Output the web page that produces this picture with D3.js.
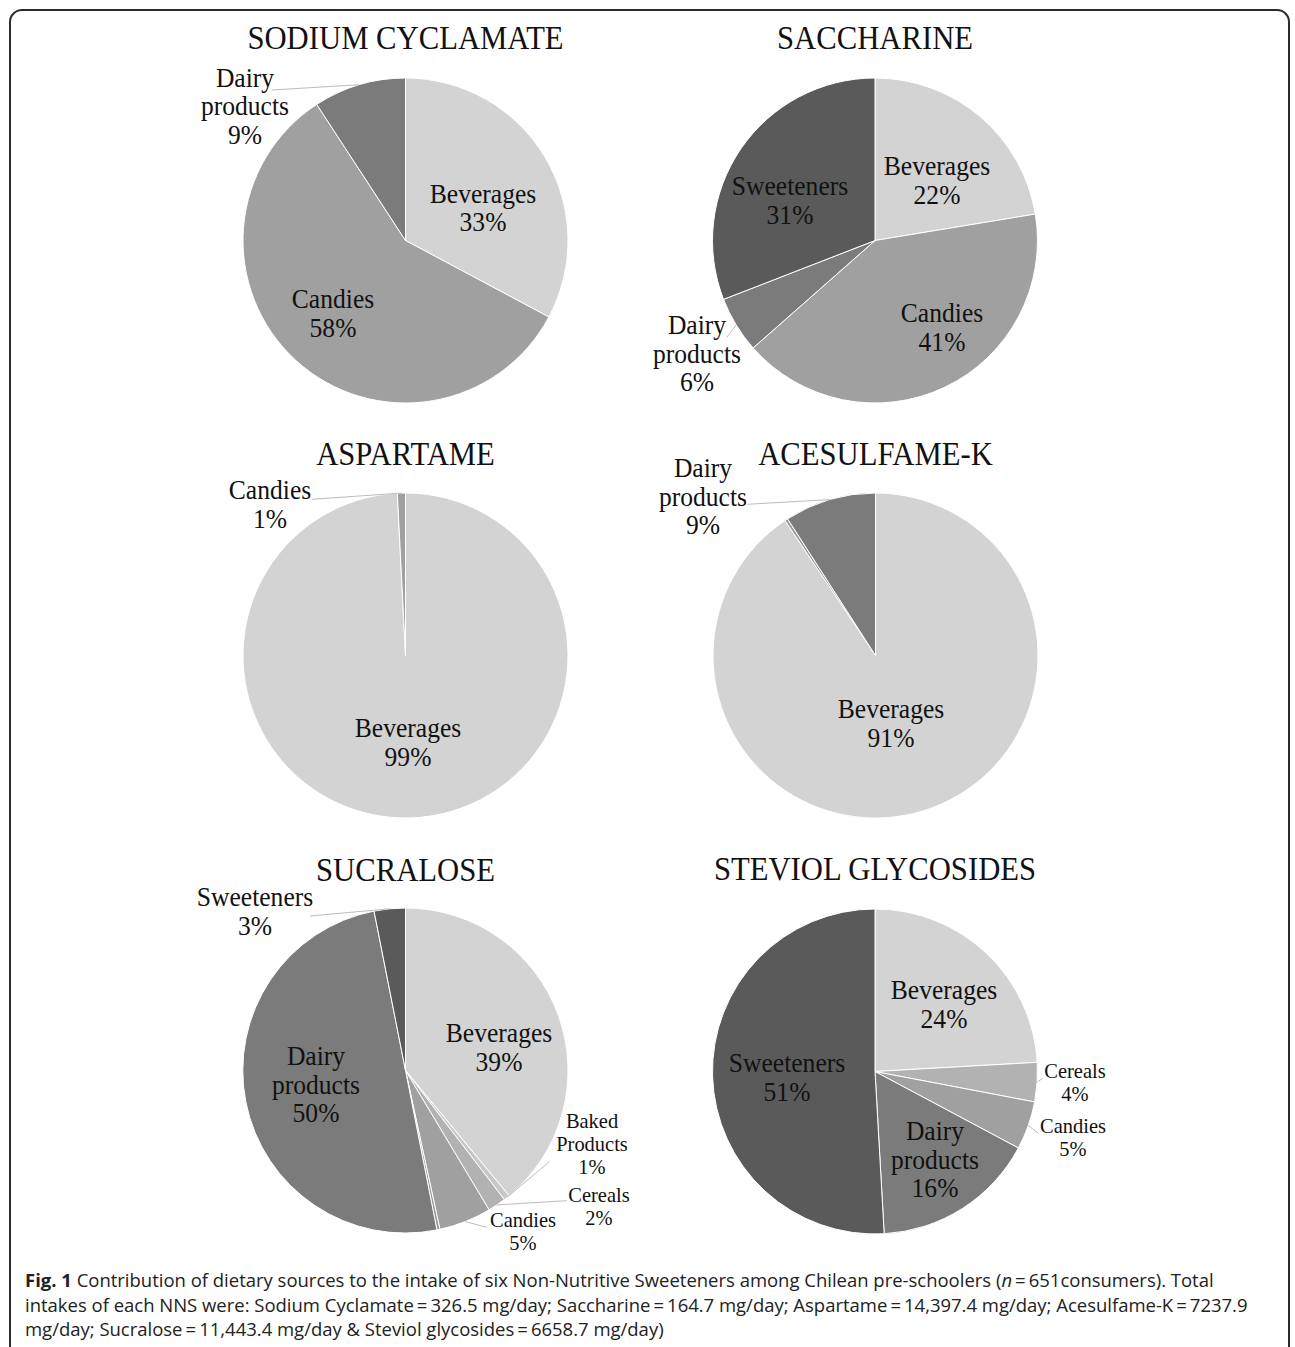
<!DOCTYPE html>
<html>
<head>
<meta charset="utf-8">
<script src="https://cdn.jsdelivr.net/npm/d3@7"></script>
<style>
  html, body { margin: 0; padding: 0; background: #fff; }
  svg { display: block; }
</style>
</head>
<body>
<svg id="chart" width="1295" height="1347"></svg>
<script>
// ---------------- DATA ----------------
const titles = ["SODIUM CYCLAMATE", "SACCHARINE", "ASPARTAME", "ACESULFAME-K", "SUCRALOSE", "STEVIOL GLYCOSIDES"];

const cyclamateCats = ["Beverages", "Candies", "Dairy products"];
const cyclamateVals = [32.8, 58.0, 9.2];

const saccharineCats = ["Beverages", "Candies", "Dairy products", "Sweeteners"];
const saccharineVals = [22.4, 41.1, 5.6, 30.9];

const aspartameCats = ["Beverages", "Candies"];
const aspartameVals = [99.2, 0.8];

const acesulfameCats = ["Beverages", "Other", "Dairy products"];
const acesulfameVals = [90.6, 0.3, 9.1];

const sucraloseCats = ["Beverages", "Baked Products", "Cereals", "Candies", "Other", "Dairy products", "Sweeteners"];
const sucraloseVals = [39.0, 0.6, 1.8, 5.2, 0.3, 50.0, 3.1];

const steviolCats = ["Beverages", "Cereals", "Candies", "Dairy products", "Sweeteners"];
const steviolVals = [24.1, 3.9, 4.8, 16.3, 50.9];

const categoryNames = ["Beverages", "Baked Products", "Cereals", "Candies", "Other", "Dairy products", "Sweeteners"];
const categoryColors = ["#d3d3d3", "#c8c8c8", "#b2b2b2", "#a0a0a0", "#9a9a9a", "#7b7b7b", "#5a5a5a"];

const captionLines = [
  [{t: "Fig. 1", b: true}, {t: " Contribution of dietary sources to the intake of six Non-Nutritive Sweeteners among Chilean pre-schoolers ("}, {t: "n", i: true}, {t: "\u2009=\u2009651consumers). Total"}],
  [{t: "intakes of each NNS were: Sodium Cyclamate\u2009=\u2009326.5 mg/day; Saccharine\u2009=\u2009164.7 mg/day; Aspartame\u2009=\u200914,397.4 mg/day; Acesulfame-K\u2009=\u20097237.9"}],
  [{t: "mg/day; Sucralose\u2009=\u200911,443.4 mg/day & Steviol glycosides\u2009=\u20096658.7 mg/day)"}]
];

// ---------------- LAYOUT ----------------
const R = 162.5;
const panels = [
  {cx: 405.5, cy: 240.5, ty: 49,  cats: cyclamateCats,  vals: cyclamateVals,
   labels: {"Beverages": [77.5, -38, "L"], "Candies": [-72.5, 67.5, "L"], "Dairy products": [-160.5, -154, "L", [-133.5, -150.5]]}},
  {cx: 875, cy: 240.5, ty: 49, cats: saccharineCats, vals: saccharineVals,
   labels: {"Beverages": [62, -65.5, "L"], "Candies": [67, 81.5, "L"], "Dairy products": [-178, 93.5, "L", [-148, 96.5]], "Sweeteners": [-85, -45.5, "L"]}},
  {cx: 405.5, cy: 655.5, ty: 465, cats: aspartameCats, vals: aspartameVals,
   labels: {"Beverages": [2.5, 81.5, "L"], "Candies": [-135.5, -156.5, "L", [-93.8, -156.2]]}},
  {cx: 875.5, cy: 655.5, ty: 465, cats: acesulfameCats, vals: acesulfameVals,
   labels: {"Beverages": [15.5, 62.5, "L"], "Dairy products": [-172.5, -178.5, "L", [-128.2, -151.2]]}},
  {cx: 405.5, cy: 1070.5, ty: 881, cats: sucraloseCats, vals: sucraloseVals,
   labels: {"Beverages": [93.5, -28.5, "L"], "Baked Products": [186.5, 57.5, "S", [143.8, 91.2]],
            "Cereals": [193.5, 131.5, "S", [161.2, 130.2]], "Candies": [117.5, 156.5, "S", [81.2, 156.8]],
            "Dairy products": [-89.5, -5.5, "L"], "Sweeteners": [-150.5, -164.5, "L", [-95.5, -154.5]]}},
  {cx: 875, cy: 1071.5, ty: 880, cats: steviolCats, vals: steviolVals,
   labels: {"Beverages": [69, -72.5, "L"], "Cereals": [200, 6.5, "S", [167.7, 6.8]], "Candies": [198, 61.5, "S", [163.3, 61.8]],
            "Dairy products": [60, 68.5, "L"], "Sweeteners": [-88, 0.5, "L"]}}
];

const SERIF = "'Liberation Serif', 'Times New Roman', Times, serif";
const SX = 0.93;
const sizes = {L: {fs: 27.5, lh: 28.6}, S: {fs: 22, lh: 23}};

// ---------------- DRAW ----------------
const svg = d3.select("#chart");
const color = d3.scaleOrdinal().domain(categoryNames).range(categoryColors);

// frame
svg.append("rect")
  .attr("x", 10).attr("y", 10).attr("width", 1279).attr("height", 1400)
  .attr("rx", 12).attr("ry", 12)
  .attr("fill", "none").attr("stroke", "#2b2b2b").attr("stroke-width", 2);

const pie = d3.pie().sort(null).value(d => d.v);
const arc = d3.arc().innerRadius(0).outerRadius(R);

panels.forEach((p, i) => {
  const data = p.cats.map((c, k) => ({c, v: p.vals[k]}));
  const arcs = pie(data);
  const g = svg.append("g").attr("transform", `translate(${p.cx},${p.cy})`);

  g.selectAll("path.slice").data(arcs).join("path")
    .attr("class", "slice")
    .attr("d", arc)
    .attr("fill", d => color(d.data.c))
    .attr("stroke", "#ffffff")
    .attr("stroke-width", 1);

  // title
  svg.append("text")
    .attr("transform", `translate(${p.cx},${p.ty}) scale(${SX},1)`)
    .attr("text-anchor", "middle")
    .attr("font-family", SERIF)
    .attr("font-size", 33)
    .attr("fill", "#111")
    .text(titles[i]);

  // labels
  arcs.forEach(a => {
    const L = p.labels[a.data.c];
    if (!L) return;
    const [dx, dy, sz, lead] = L;
    const s = sizes[sz];
    if (lead) {
      const mid = (a.startAngle + a.endAngle) / 2;
      g.append("line")
        .attr("x1", lead[0]).attr("y1", lead[1])
        .attr("x2", Math.sin(mid) * R).attr("y2", -Math.cos(mid) * R)
        .attr("stroke", "#bdbdbd").attr("stroke-width", 1);
    }
    const lines = a.data.c.split(" ").concat([Math.round(a.data.v) + "%"]);
    const t = g.append("text")
      .attr("transform", `translate(${dx},${dy}) scale(${SX},1)`)
      .attr("text-anchor", "middle")
      .attr("font-family", SERIF)
      .attr("font-size", s.fs)
      .attr("fill", "#111");
    lines.forEach((ln, k) => {
      t.append("tspan").attr("x", 0).attr("y", k * s.lh).text(ln);
    });
  });
});

// caption
const capX = 25;
const capY = [1287, 1312, 1336];
const capRefWidth = 1223; // width of the second caption line
const capTexts = captionLines.map((parts, k) => {
  const t = svg.append("text")
    .attr("font-family", "'Open Sans', 'Noto Sans', sans-serif")
    .attr("font-size", 18.5)
    .attr("fill", "#222");
  parts.forEach(p => {
    t.append("tspan")
      .attr("font-weight", p.b ? 700 : 400)
      .attr("font-style", p.i ? "italic" : "normal")
      .text(p.t);
  });
  return t;
});
const w2 = capTexts[1].node().getComputedTextLength();
const capSX = w2 > 0 ? capRefWidth / w2 : 1;
capTexts.forEach((t, k) => {
  t.attr("transform", `translate(${capX},${capY[k]}) scale(${capSX},1)`);
});
</script>
</body>
</html>
